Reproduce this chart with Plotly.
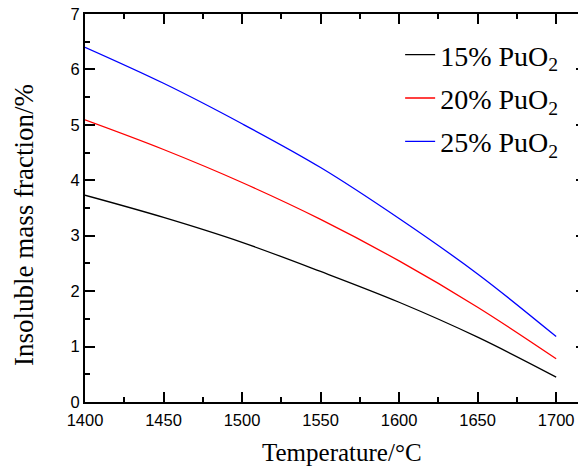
import plotly.graph_objects as go

temps = [1400, 1450, 1500, 1550, 1600, 1650, 1700]
pu15 = [3.73, 3.33, 2.88, 2.355, 1.80, 1.17, 0.45]
pu20 = [5.09, 4.555, 3.96, 3.295, 2.545, 1.71, 0.78]
pu25 = [6.40, 5.75, 5.02, 4.23, 3.31, 2.31, 1.18]
names = ["15% PuO<sub>2</sub>", "20% PuO<sub>2</sub>", "25% PuO<sub>2</sub>"]
colors = ["#000000", "#ff0000", "#0000ff"]
x_title = "Temperature/°C"
y_title = "Insoluble mass fraction/%"

fig = go.Figure()
for i, (ys, nm, c) in enumerate(zip([pu15, pu20, pu25], names, colors)):
    fig.add_trace(go.Scatter(x=temps, y=ys, mode="lines", name=nm, legendgroup=f"g{i}",
                             line=dict(color=c, width=1.3, shape="spline", smoothing=1.0)))

axis_common = dict(showline=True, linewidth=2, linecolor="black", mirror="ticks",
                   ticks="inside", ticklen=10, tickwidth=2, tickcolor="black",
                   showgrid=False, zeroline=False, automargin=False,
                   ticklabeloverflow="allow",
                   tickfont=dict(family="Liberation Sans, Arial", size=16.5, color="black"))

fig.update_xaxes(range=[1400, 1719], dtick=50, tick0=1400, ticklabelstandoff=2,
                 minor=dict(ticks="inside", ticklen=5, tickwidth=1.5, dtick=25, tickcolor="black"),
                 **axis_common)
fig.update_yaxes(range=[0, 7], dtick=1, tick0=0,
                 minor=dict(ticks="inside", ticklen=5, tickwidth=1.5, dtick=0.5, tickcolor="black"),
                 **axis_common)

serif = "Liberation Serif, Times New Roman"
fig.add_annotation(text=x_title, xref="paper", yref="paper", x=0.513, y=-0.129,
                   xanchor="center", yanchor="middle", showarrow=False,
                   font=dict(family=serif, size=25, color="black"))
fig.add_annotation(text=y_title, xref="paper", yref="paper", x=-0.1218, y=0.456,
                   xanchor="center", yanchor="middle", showarrow=False, textangle=-90,
                   font=dict(family=serif, size=27, color="black"))

fig.update_layout(width=578, height=462,
                  margin=dict(l=77, r=0, t=6, b=68),
                  paper_bgcolor="white", plot_bgcolor="white",
                  legend=dict(x=0.629, y=0.959, xanchor="left", yanchor="top",
                              bgcolor="rgba(0,0,0,0)",
                              font=dict(family=serif, size=28, color="black"),
                              tracegroupgap=4))

fig.write_html("out.html")
